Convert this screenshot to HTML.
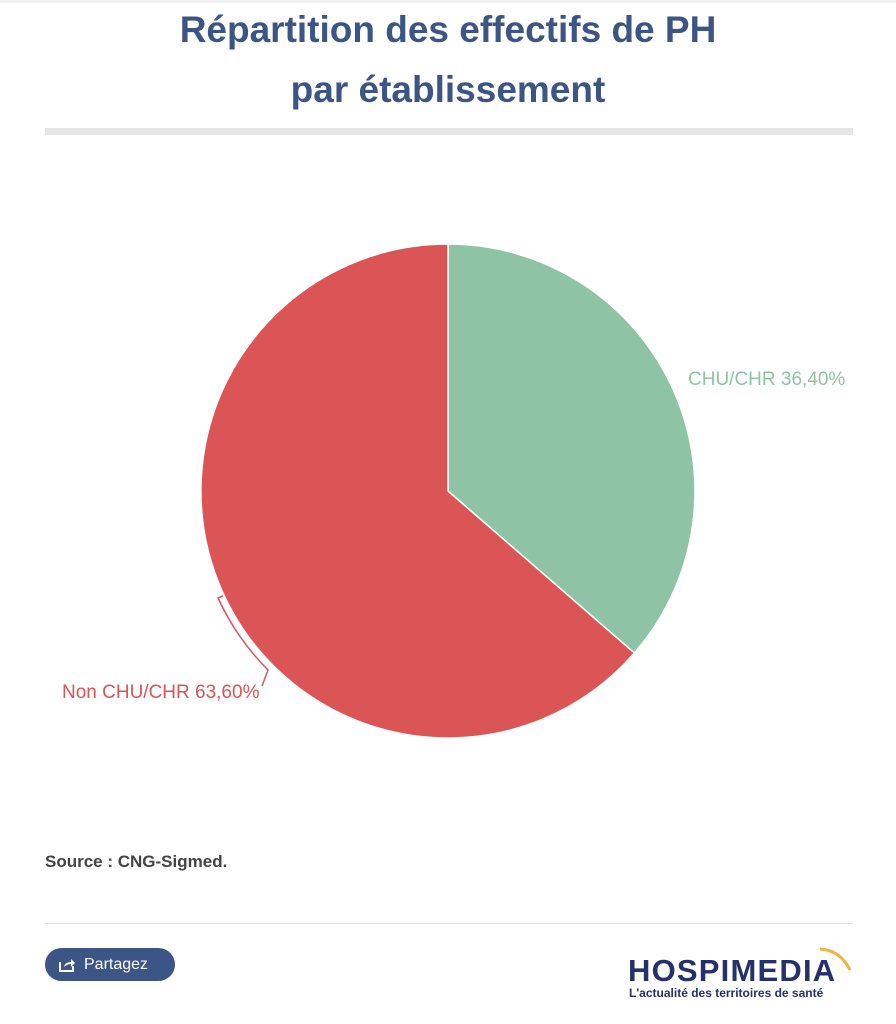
<!DOCTYPE html>
<html><head><style>
body{margin:0;width:896px;height:1024px;background:#fff;font-family:"Liberation Sans",sans-serif;position:relative;overflow:hidden}
.t{position:absolute;left:0;width:896px;text-align:center;color:#3d5585;font-weight:bold;font-size:37px;line-height:60px;top:0}
</style></head><body>
<div style="position:absolute;left:0;top:0;width:896px;height:3px;background:#f0f0f0"></div>
<div class="t">Répartition des effectifs de PH<br>par établissement</div>
<div style="position:absolute;left:45px;top:128px;width:808px;height:7px;background:#e6e6e6"></div>
<svg style="position:absolute;left:0;top:0" width="896" height="1024">
<path d="M448,491 L448,244 A247,247 0 0 1 634.4,653 Z" fill="#8fc3a6" stroke="#fff" stroke-width="1.5"/>
<path d="M448,491 L634.4,653 A247,247 0 1 1 448,244 Z" fill="#db5456" stroke="#fff" stroke-width="1.5"/>
<path d="M223,596 L218,598 A250,250 0 0 0 268,670 L262,686" fill="none" stroke="#db5456" stroke-width="1.5"/>
<text x="688" y="385" font-size="19" fill="#8fc3a6" font-family="Liberation Sans">CHU/CHR 36,40%</text>
<text x="62" y="698" font-size="19" fill="#db5456" font-family="Liberation Sans">Non CHU/CHR 63,60%</text>
</svg>
<div style="position:absolute;left:45px;top:852px;font-size:17px;font-weight:bold;color:#444">Source : CNG-Sigmed.</div>
<div style="position:absolute;left:45px;top:923px;width:808px;height:1px;background:#ddd"></div>
<div style="position:absolute;left:45px;top:948px;width:130px;height:33px;border-radius:17px;background:#3d5585;color:#fff;font-size:16px;line-height:33px">
<svg style="position:absolute;left:14px;top:9px" width="16" height="15"><path d="M1,5 V14 H14 V9" fill="none" stroke="#fff" stroke-width="2"/><path d="M5,10 Q6,5 12,5 V2 L16,6 L12,10 V7 Q8,7 5,10Z" fill="#fff"/></svg>
<span style="position:absolute;left:39px">Partagez</span></div>
<div style="position:absolute;left:628px;top:953px;font-size:31px;font-weight:bold;color:#26306a;letter-spacing:1.2px">HOSPIMEDIA</div>
<div style="position:absolute;left:629px;top:986px;font-size:12px;font-weight:bold;color:#26306a">L'actualité des territoires de santé</div>
<svg style="position:absolute;left:810px;top:945px" width="45" height="30"><path d="M10,4 Q30,5 40,25" fill="none" stroke="#f4b23a" stroke-width="3"/></svg>
</body></html>
